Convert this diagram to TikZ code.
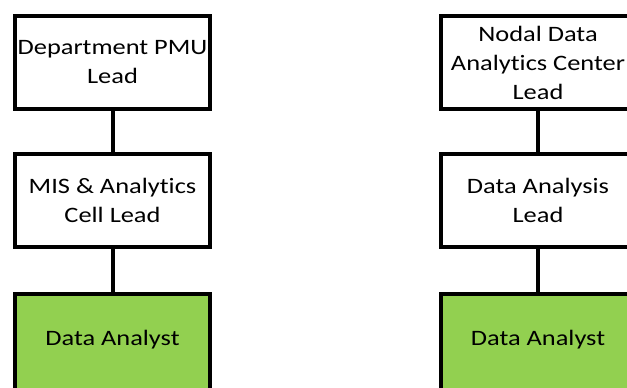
\documentclass[tikz,border=0pt]{standalone}
\usepackage{fontspec}
\setmainfont{Carlito}[FakeStretch=1.2, Ligatures=NoCommon]
\usepackage{tikz}

\definecolor{leafgreen}{RGB}{146,208,80}

\tikzset{
    role/.style={draw=black, line width=4bp, fill=white, minimum width=195bp, minimum height=93bp,
        align=center, inner sep=1bp, font=\fontsize{22bp}{29bp}\selectfont},
    analyst/.style={role, fill=leafgreen, minimum height=112bp, text depth=24bp},
    link/.style={line width=4bp}
}

\begin{document}
\begin{tikzpicture}[x=1bp, y=1bp]
        \useasboundingbox (0,0) rectangle (627,387);
        \clip (0,0) rectangle (627,387);

        % department side
        \node[role] (pmu) at (112.5, 324.5) {Department PMU\\Lead};
        \node[role] (mis) at (112.5, 187) {MIS \& Analytics\\Cell Lead};
        \node[analyst] (analystA) at (112.5, 37) {Data Analyst};
        \draw[link] (pmu) -- (mis);
        \draw[link] (mis) -- (analystA);

        % nodal side
        \node[role] (nodal) at (538, 324.5) {Nodal Data\\Analytics Center\\Lead};
        \node[role] (dal) at (538, 187) {Data Analysis\\Lead};
        \node[analyst] (analystB) at (538, 37) {Data Analyst};
        \draw[link] (nodal) -- (dal);
        \draw[link] (dal) -- (analystB);
    \end{tikzpicture}
\end{document}
